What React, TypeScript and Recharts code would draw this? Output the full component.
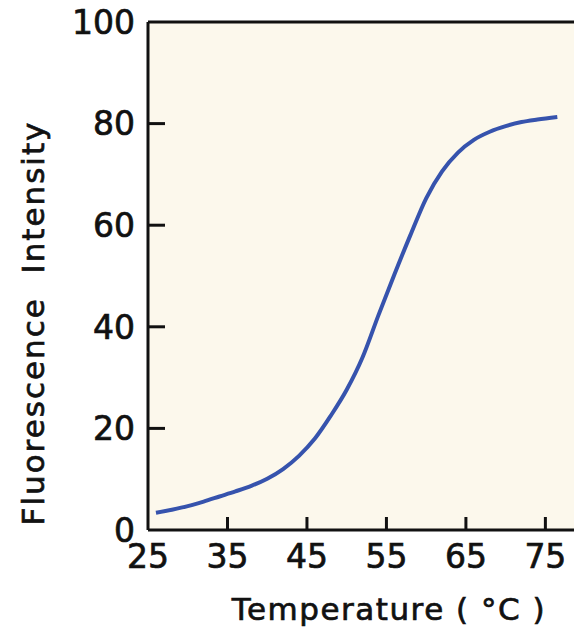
import React from 'react'
import {
  LineChart,
  Line,
  XAxis,
  YAxis,
  CartesianGrid,
  ReferenceLine,
} from 'recharts'

// melting curve
const temps = [26, 28, 30, 32, 34, 36, 38, 40, 42, 44, 46, 48, 50, 52, 54, 56, 58, 60, 62, 64, 66, 68, 70, 72, 74, 76.5]
const intensity = [3.4, 4.0, 4.7, 5.6, 6.6, 7.6, 8.7, 10.1, 12.0, 14.6, 18.0, 22.5, 27.6, 34.0, 42.3, 50.3, 58.0, 65.3, 70.6, 74.3, 76.8, 78.4, 79.5, 80.3, 80.8, 81.3]
const xTicks = [25, 35, 45, 55, 65, 75]
const yTicks = [0, 20, 40, 60, 80, 100]

const data = temps.map((t, i) => ({ temp: t, value: intensity[i] }))

const FONT = '"DejaVu Sans", sans-serif'
const INK = '#111'
const BLUE = '#3653ad'
const CREAM = '#fcf8ec'

const Y_MARGIN = 13
const X_MARGIN = 15
const Y_TICK_LEN = 17
const X_TICK_LEN = 13

// slightly heavier lettering, like the scanned figure
const textStyle = { fontFamily: FONT, fill: INK, stroke: INK, strokeWidth: 0.7 }

function YTick(props: any) {
  const { x, y, payload } = props
  const v = payload.value
  const axisX = x + Y_MARGIN
  return (
    <g>
      {v !== 0 && v !== 100 && (
        <line x1={axisX} x2={axisX + Y_TICK_LEN} y1={y} y2={y} stroke={INK} strokeWidth={3} />
      )}
      <text x={x} y={y} dy="0.36em" textAnchor="end" fontSize={33} {...textStyle}>
        {v}
      </text>
    </g>
  )
}

function XTick(props: any) {
  const { x, y, payload } = props
  const v = payload.value
  const axisY = y - X_MARGIN
  return (
    <g>
      {v !== xTicks[0] && (
        <line x1={x} x2={x} y1={axisY} y2={axisY - X_TICK_LEN} stroke={INK} strokeWidth={3} />
      )}
      <text x={x} y={y} dy="0.71em" textAnchor="middle" fontSize={33} {...textStyle}>
        {v}
      </text>
    </g>
  )
}

export default function App() {
  return (
    <div style={{ position: 'absolute', left: 0, top: 0, background: '#fff' }}>
      <LineChart width={574} height={631} data={data} margin={{ top: 22, right: 0, left: 0, bottom: 0 }}>
        <CartesianGrid horizontal={false} vertical={false} fill={CREAM} />
        <XAxis
          dataKey="temp"
          type="number"
          domain={[25, 78.6]}
          ticks={xTicks}
          height={101}
          tickSize={0}
          tickMargin={X_MARGIN}
          tick={<XTick />}
          axisLine={{ stroke: INK, strokeWidth: 3 }}
          tickLine={false}
          label={(p: any) => {
            const vb = p.viewBox
            return (
              <text
                x={389}
                y={vb.y + 90}
                textAnchor="middle"
                fontSize={31}
                letterSpacing={1.5}
                {...textStyle}
              >
                Temperature ( °C )
              </text>
            )
          }}
        />
        <YAxis
          type="number"
          domain={[0, 100]}
          ticks={yTicks}
          width={148}
          tickSize={0}
          tickMargin={Y_MARGIN}
          tick={<YTick />}
          axisLine={{ stroke: INK, strokeWidth: 3 }}
          tickLine={false}
          label={(p: any) => {
            const vb = p.viewBox
            const cx = vb.x + 44
            const cy = 323
            return (
              <text
                x={cx}
                y={cy}
                transform={`rotate(-90 ${cx} ${cy})`}
                textAnchor="middle"
                fontSize={31}
                letterSpacing={2}
                {...textStyle}
              >
                Fluorescence{'\u00a0\u00a0'}Intensity
              </text>
            )
          }}
        />
        <ReferenceLine y={100} stroke={INK} strokeWidth={3} />
        <Line
          type="monotone"
          dataKey="value"
          stroke={BLUE}
          strokeWidth={4}
          dot={false}
          isAnimationActive={false}
        />
      </LineChart>
    </div>
  )
}
